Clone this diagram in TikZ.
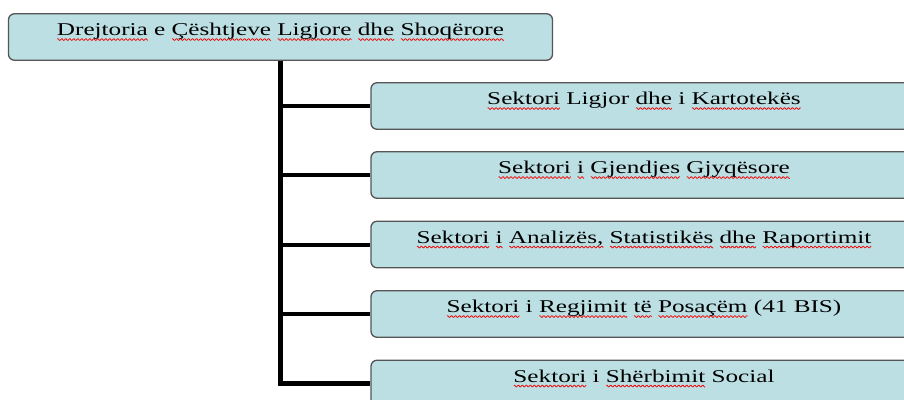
\documentclass[tikz,border=0pt]{standalone}
\usepackage{fontspec}
\setmainfont{Liberation Serif}[FakeStretch=1.4]
\newsavebox\sqbox
\newcommand\sq[1]{\sbox\sqbox{#1}\pgfmathsetmacro\sqw{\wd\sqbox}\pgfmathtruncatemacro\sqn{2*\sqw+3}%
\rlap{\tikz[x=1pt,y=1pt,baseline={(0,0)},sharp corners]{\draw[red!95!black,line width=0.75pt] plot[domain=0.5:\sqw, samples=\sqn] (\x,{-3.8+0.85*sin(\x*90)});}}\usebox\sqbox}
\definecolor{boxfill}{RGB}{187,223,227}
\definecolor{boxline}{RGB}{85,85,85}
\tikzset{
  orgbox/.style={draw=boxline, line width=1.3pt, fill=boxfill, rounded corners=6pt,
    inner xsep=0pt, inner ysep=0pt, text height=22pt, text depth=24.5pt,
    font=\fontsize{18}{22}\selectfont},
  conn/.style={line width=4pt, black, line join=miter},
}
\begin{document}
\begin{tikzpicture}[x=1pt,y=-1pt]
\clip (0,0) rectangle (904,399);
\fill[white] (0,0) rectangle (904,399);
\node[orgbox, minimum width=544pt] (top) at (280.5,37) {\sq{Drejtoria} e \sq{Çështjeve} \sq{Ligjore} \sq{dhe} \sq{Shoqërore}};
\node[orgbox, minimum width=546pt] (s1) at (644,106) {\sq{Sektori} Ligjor \sq{dhe} i \sq{Kartotekës}};
\node[orgbox, minimum width=546pt] (s2) at (644,175) {\sq{Sektori} \sq{i} \sq{Gjendjes} \sq{Gjyqësore}};
\node[orgbox, minimum width=546pt] (s3) at (644,244.5) {\sq{Sektori} \sq{i} \sq{Analizës,} \sq{Statistikës} \sq{dhe} \sq{Raportimit}};
\node[orgbox, minimum width=546pt] (s4) at (644,314) {\sq{Sektori} i \sq{Regjimit} \sq{të} \sq{Posaçëm} (41 BIS)};
\node[orgbox, minimum width=546pt] (s5) at (644,383.5) {\sq{Sektori} i \sq{Shërbimit} Social};
\draw[conn, line width=5pt] (top.south) |- (s5.west);
\foreach \n in {s1,s2,s3,s4}
  \draw[conn] (top.south |- \n.west) -- (\n.west);
\end{tikzpicture}
\end{document}
